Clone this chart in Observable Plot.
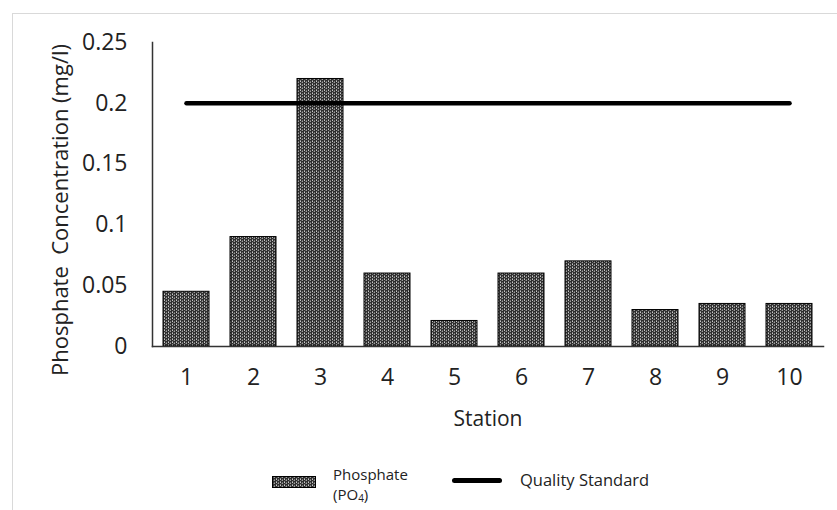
<!DOCTYPE html>
<html>
<head>
<meta charset="utf-8">
<script src="https://cdn.jsdelivr.net/npm/d3@7"></script>
<script src="https://cdn.jsdelivr.net/npm/@observablehq/plot@0.6"></script>
<style>
  html, body { margin: 0; padding: 0; background: #fff; }
  body { width: 837px; height: 510px; position: relative; overflow: hidden; font-family: "Open Sans", sans-serif; }
  #frame { position: absolute; left: 12px; top: 13px; width: 900px; height: 600px; border: 1.5px solid #d9d9d9; box-sizing: border-box; }
  #chart { position: absolute; left: 0; top: 0; }
  #legend { position: absolute; left: 0; top: 0; width: 837px; height: 510px; pointer-events: none; color: #222; }
  .sw { position: absolute; left: 272px; top: 476px; width: 44px; height: 12px; }
  .lt1a { position: absolute; left: 333px; top: 465px; font-size: 15px; line-height: 18px; height: 18px; }
  .lt1b { position: absolute; left: 333px; top: 485px; font-size: 15px; line-height: 18px; height: 20px; }
  .ln { position: absolute; left: 452px; top: 478px; width: 50px; height: 5px; background: #000; border-radius: 3px; }
  .lt2 { position: absolute; left: 520px; top: 469px; font-size: 16.5px; line-height: 22px; }
</style>
</head>
<body>
<div id="frame"></div>
<div id="chart"></div>
<div id="legend">
  <svg class="sw" width="44" height="12"><rect x="0.5" y="0.5" width="43" height="11" fill="url(#dots)" stroke="#000"/></svg>
  <div class="lt1a">Phosphate</div>
  <div class="lt1b">(PO<sub style="font-size:10px;vertical-align:-2px;line-height:0">4</sub>)</div>
  <div class="ln"></div>
  <div class="lt2">Quality Standard</div>
</div>
<script>
const stations = ["1","2","3","4","5","6","7","8","9","10"];
const phosphate = [0.045, 0.09, 0.22, 0.06, 0.021, 0.06, 0.07, 0.03, 0.035, 0.035];
const qualityStandard = [0.2, 0.2, 0.2, 0.2, 0.2, 0.2, 0.2, 0.2, 0.2, 0.2];
const yTicks = [0, 0.05, 0.1, 0.15, 0.2, 0.25];
const yTickLabels = ["0", "0.05", "0.1", "0.15", "0.2", "0.25"];
const yTitle = "Phosphate\u00a0 Concentration (mg/l)";
const xTitle = "Station";

const bars = stations.map((s, i) => ({station: s, value: phosphate[i]}));
const standard = stations.map((s, i) => ({station: s, value: qualityStandard[i]}));

const H = 440;
const chart = Plot.plot({
  width: 837,
  height: H,
  marginLeft: 152,
  marginRight: 14,
  marginTop: 42,
  marginBottom: H - 346,
  style: {fontFamily: "'Open Sans', sans-serif", fontSize: "23px", color: "#222", background: "transparent"},
  x: {domain: stations, paddingInner: 0.31, paddingOuter: 0.155},
  y: {domain: [0, 0.25]},
  marks: [
    Plot.barY(bars, {x: "station", y: "value", fill: "url(#dots)", stroke: "#000", strokeWidth: 1}),
    Plot.frame({anchor: "left", stroke: "#333", strokeWidth: 1.5}),
    Plot.frame({anchor: "bottom", stroke: "#333", strokeWidth: 1.5}),
    Plot.line(standard, {x: "station", y: "value", stroke: "#000", strokeWidth: 4.5, strokeLinecap: "round"}),
    Plot.axisY({ticks: yTicks, tickFormat: (d) => yTickLabels[yTicks.indexOf(d)], tickSize: 0, tickPadding: 25,
      label: null, fontSize: 23}),
    Plot.axisX({tickSize: 0, tickPadding: 22, label: xTitle, labelAnchor: "center", labelArrow: "none", labelOffset: 79, fontSize: 23})
  ]
});
document.getElementById("chart").appendChild(chart);

// y-axis title
d3.select(chart).append("text")
  .attr("transform", "translate(59,210) rotate(-90)")
  .attr("text-anchor", "middle")
  .attr("dominant-baseline", "central")
  .attr("fill", "#222")
  .style("font-size", "22px")
  .style("font-family", "'Open Sans', sans-serif")
  .text(yTitle);

// pattern defs
const defs = `<svg width="0" height="0" style="position:absolute"><defs>
<pattern id="dots" patternUnits="userSpaceOnUse" width="4" height="3">
<rect width="4" height="3" fill="#2e2e2e"/>
<rect x="0" y="0" width="1" height="1" fill="#c8c8c8"/>
<rect x="2" y="1" width="1" height="1" fill="#a0a0a0"/>
<rect x="0" y="2" width="1" height="1" fill="#8c8c8c"/>
<rect x="2" y="0" width="1" height="1" fill="#707070"/>
<rect x="1" y="1" width="1" height="1" fill="#555"/>
</pattern></defs></svg>`;
document.body.insertAdjacentHTML("afterbegin", defs);

d3.select(chart).selectAll("[aria-label='x-axis label'] text, [aria-label='x-axis label']").style("font-size", "21px");
</script>
</body>
</html>
